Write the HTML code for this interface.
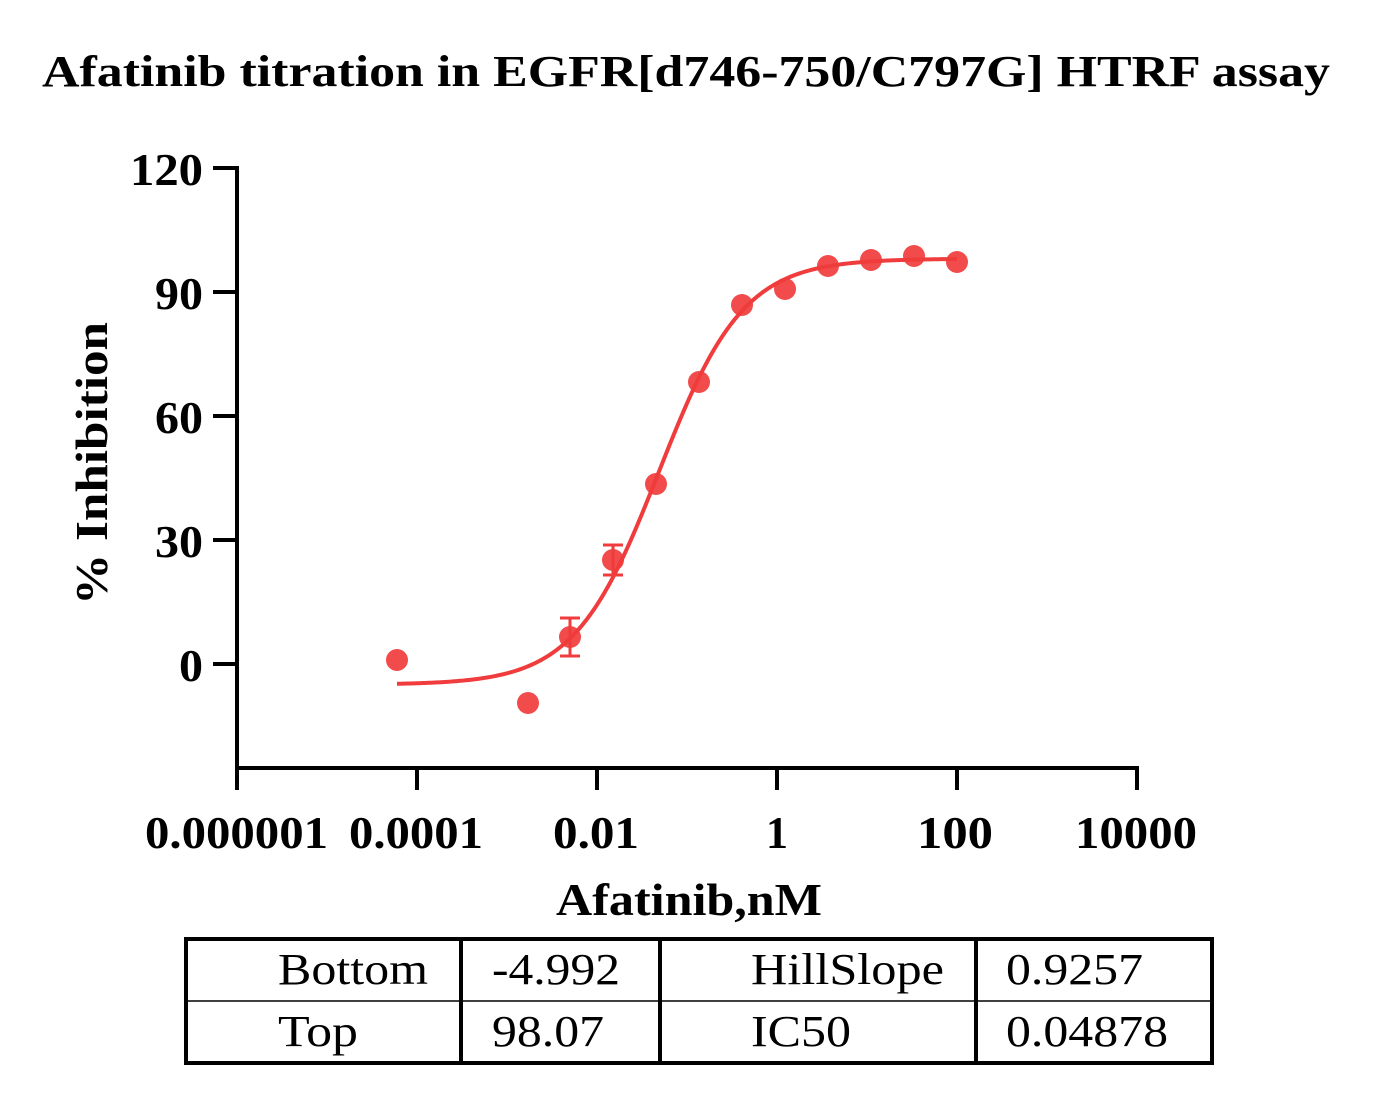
<!DOCTYPE html>
<html><head><meta charset="utf-8"><style>
html,body{margin:0;padding:0;background:#fff;}
svg text{font-family:"Liberation Serif",serif;}
</style></head><body>
<svg width="1374" height="1095" xmlns="http://www.w3.org/2000/svg">
<text x="42" y="86" font-size="44" font-weight="bold" textLength="1288" lengthAdjust="spacingAndGlyphs">Afatinib titration in EGFR[d746-750/C797G] HTRF assay</text>
<g stroke="#000" stroke-width="4" fill="none">
<line x1="237" y1="166" x2="237" y2="770"/>
<line x1="235" y1="768" x2="1139" y2="768"/>
<line x1="213" y1="168" x2="237" y2="168"/>
<line x1="213" y1="292" x2="237" y2="292"/>
<line x1="213" y1="416" x2="237" y2="416"/>
<line x1="213" y1="540" x2="237" y2="540"/>
<line x1="213" y1="664" x2="237" y2="664"/>
<line x1="237" y1="768" x2="237" y2="790"/>
<line x1="417" y1="768" x2="417" y2="790"/>
<line x1="597" y1="768" x2="597" y2="790"/>
<line x1="777" y1="768" x2="777" y2="790"/>
<line x1="957" y1="768" x2="957" y2="790"/>
<line x1="1137" y1="768" x2="1137" y2="790"/>
</g>
<g font-size="46" font-weight="bold">
<text x="130" y="185" textLength="73" lengthAdjust="spacingAndGlyphs">120</text>
<text x="155" y="309" textLength="48" lengthAdjust="spacingAndGlyphs">90</text>
<text x="155" y="433" textLength="48" lengthAdjust="spacingAndGlyphs">60</text>
<text x="155" y="557" textLength="48" lengthAdjust="spacingAndGlyphs">30</text>
<text x="179" y="681" textLength="24" lengthAdjust="spacingAndGlyphs">0</text>
<text x="145" y="848" textLength="183" lengthAdjust="spacingAndGlyphs">0.000001</text>
<text x="349" y="848" textLength="134" lengthAdjust="spacingAndGlyphs">0.0001</text>
<text x="553" y="848" textLength="86" lengthAdjust="spacingAndGlyphs">0.01</text>
<text x="766" y="848" textLength="22" lengthAdjust="spacingAndGlyphs">1</text>
<text x="917" y="848" textLength="76" lengthAdjust="spacingAndGlyphs">100</text>
<text x="1075" y="848" textLength="122" lengthAdjust="spacingAndGlyphs">10000</text>
<text x="556" y="915" textLength="266" lengthAdjust="spacingAndGlyphs">Afatinib,nM</text>
<text transform="translate(107,605) rotate(-90)" textLength="283" lengthAdjust="spacingAndGlyphs">% Inhibition</text>
</g>
<path id="curve" fill="none" stroke="#f03c3c" stroke-width="4" d=""/>
<g stroke="#f03c3c" stroke-width="3">
<line x1="570" y1="618" x2="570" y2="656"/><line x1="560" y1="618" x2="580" y2="618"/><line x1="560" y1="656" x2="580" y2="656"/>
<line x1="613" y1="545" x2="613" y2="575"/><line x1="603" y1="545" x2="623" y2="545"/><line x1="603" y1="575" x2="623" y2="575"/>
</g>
<g fill="#f03c3c" fill-opacity="0.92">
<circle cx="397" cy="660" r="11"/><circle cx="528" cy="703" r="11"/><circle cx="570" cy="637" r="11"/>
<circle cx="613" cy="560" r="11"/><circle cx="656" cy="484" r="11"/><circle cx="699" cy="382" r="11"/>
<circle cx="742" cy="305" r="11"/><circle cx="785" cy="289" r="11"/><circle cx="828" cy="266" r="11"/>
<circle cx="871" cy="260" r="11"/><circle cx="914" cy="256" r="11"/><circle cx="957" cy="262" r="11"/>
</g>
<g stroke="#000" fill="none">
<rect x="186" y="939" width="1026" height="124" stroke-width="4"/>
<line x1="186" y1="1001" x2="1212" y2="1001" stroke-width="1.5"/>
<line x1="461" y1="939" x2="461" y2="1063" stroke-width="4"/>
<line x1="660" y1="939" x2="660" y2="1063" stroke-width="4"/>
<line x1="976" y1="939" x2="976" y2="1063" stroke-width="4"/>
</g>
<g font-size="44">
<text x="278" y="984" textLength="150" lengthAdjust="spacingAndGlyphs">Bottom</text>
<text x="492" y="984" textLength="128" lengthAdjust="spacingAndGlyphs">-4.992</text>
<text x="751" y="984" textLength="193" lengthAdjust="spacingAndGlyphs">HillSlope</text>
<text x="1006" y="984" textLength="137" lengthAdjust="spacingAndGlyphs">0.9257</text>
<text x="278" y="1046" textLength="80" lengthAdjust="spacingAndGlyphs">Top</text>
<text x="492" y="1046" textLength="112" lengthAdjust="spacingAndGlyphs">98.07</text>
<text x="751" y="1046" textLength="100" lengthAdjust="spacingAndGlyphs">IC50</text>
<text x="1006" y="1046" textLength="162" lengthAdjust="spacingAndGlyphs">0.04878</text>
</g>
<script>
(function(){var b=-4.992,t=98.07,ic=Math.log10(0.04878),h=0.9257,d="";
for(var x=397;x<=957;x+=2){var lc=(x-777)/90;var v=b+(t-b)/(1+Math.pow(10,(ic-lc)*h));var y=664-4.1333*v;d+=(x==397?"M":"L")+x+","+y.toFixed(2);}
document.getElementById("curve").setAttribute("d",d);})();
</script>
</svg>
</body></html>
